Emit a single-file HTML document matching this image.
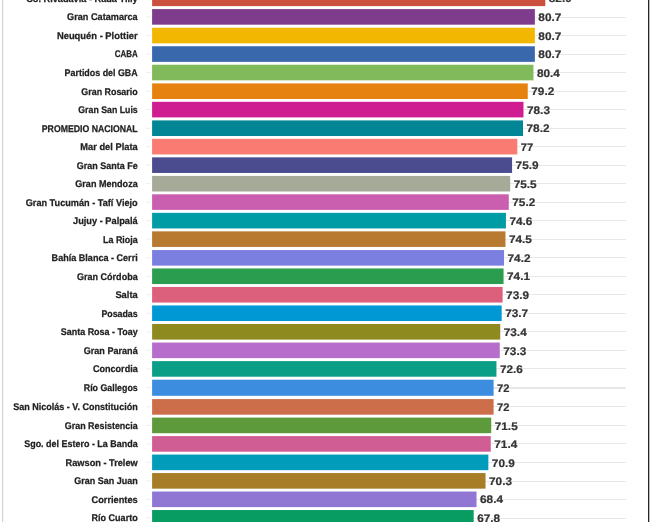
<!DOCTYPE html>
<html><head><meta charset="utf-8"><title>chart</title>
<style>
html,body{margin:0;padding:0;background:#fff;}
body{width:666px;height:522px;overflow:hidden;font-family:"Liberation Sans",sans-serif;}
svg{display:block;will-change:transform;}
text{font-family:"Liberation Sans",sans-serif;font-weight:bold;text-rendering:geometricPrecision;}
.l{font-size:9.7px;fill:#222;stroke:#222;stroke-width:0.25px;}
.v{font-size:11px;fill:#333;stroke:#333;stroke-width:0.2px;}
</style></head><body>
<svg width="666" height="522" viewBox="0 0 666 522">
<rect width="666" height="522" fill="#fff"/>
<rect x="2" y="0" width="1.15" height="522" fill="#d2d2d2"/>
<rect x="648" y="0" width="1.3" height="522" fill="#262626"/>
<rect x="152" y="-2" width="474" height="1" fill="#e8e8e8"/>
<rect x="146" y="-2.17" width="5" height="1" fill="#eeeeee"/>
<rect x="152" y="17" width="474" height="1" fill="#e8e8e8"/>
<rect x="146" y="16.38" width="5" height="1" fill="#eeeeee"/>
<rect x="152" y="35" width="474" height="1" fill="#e8e8e8"/>
<rect x="146" y="35.05" width="5" height="1" fill="#eeeeee"/>
<rect x="152" y="54" width="474" height="1" fill="#e8e8e8"/>
<rect x="146" y="53.56" width="5" height="1" fill="#eeeeee"/>
<rect x="152" y="72" width="474" height="1" fill="#e8e8e8"/>
<rect x="146" y="72.05" width="5" height="1" fill="#eeeeee"/>
<rect x="152" y="91" width="474" height="1" fill="#e8e8e8"/>
<rect x="146" y="90.71" width="5" height="1" fill="#eeeeee"/>
<rect x="152" y="109" width="474" height="1" fill="#e8e8e8"/>
<rect x="146" y="109.10" width="5" height="1" fill="#eeeeee"/>
<rect x="152" y="128" width="474" height="1" fill="#e8e8e8"/>
<rect x="146" y="127.72" width="5" height="1" fill="#eeeeee"/>
<rect x="152" y="146" width="474" height="1" fill="#e8e8e8"/>
<rect x="146" y="146.14" width="5" height="1" fill="#eeeeee"/>
<rect x="152" y="165" width="474" height="1" fill="#e8e8e8"/>
<rect x="146" y="164.64" width="5" height="1" fill="#eeeeee"/>
<rect x="152" y="183" width="474" height="1" fill="#e8e8e8"/>
<rect x="146" y="183.20" width="5" height="1" fill="#eeeeee"/>
<rect x="152" y="202" width="474" height="1" fill="#e8e8e8"/>
<rect x="146" y="201.60" width="5" height="1" fill="#eeeeee"/>
<rect x="152" y="220" width="474" height="1" fill="#e8e8e8"/>
<rect x="146" y="220.15" width="5" height="1" fill="#eeeeee"/>
<rect x="152" y="239" width="474" height="1" fill="#e8e8e8"/>
<rect x="146" y="238.65" width="5" height="1" fill="#eeeeee"/>
<rect x="152" y="257" width="474" height="1" fill="#e8e8e8"/>
<rect x="146" y="257.35" width="5" height="1" fill="#eeeeee"/>
<rect x="152" y="276" width="474" height="1" fill="#e8e8e8"/>
<rect x="146" y="275.75" width="5" height="1" fill="#eeeeee"/>
<rect x="152" y="294" width="474" height="1" fill="#e8e8e8"/>
<rect x="146" y="294.25" width="5" height="1" fill="#eeeeee"/>
<rect x="152" y="313" width="474" height="1" fill="#e8e8e8"/>
<rect x="146" y="312.75" width="5" height="1" fill="#eeeeee"/>
<rect x="152" y="331" width="474" height="1" fill="#e8e8e8"/>
<rect x="146" y="331.31" width="5" height="1" fill="#eeeeee"/>
<rect x="152" y="350" width="474" height="1" fill="#e8e8e8"/>
<rect x="146" y="349.85" width="5" height="1" fill="#eeeeee"/>
<rect x="152" y="368" width="474" height="1" fill="#e8e8e8"/>
<rect x="146" y="368.42" width="5" height="1" fill="#eeeeee"/>
<rect x="152" y="387" width="474" height="2" fill="#e8e8e8"/>
<rect x="146" y="387.25" width="5" height="1" fill="#eeeeee"/>
<rect x="152" y="406" width="474" height="1" fill="#e8e8e8"/>
<rect x="146" y="406.39" width="5" height="1" fill="#eeeeee"/>
<rect x="152" y="425" width="474" height="1" fill="#e8e8e8"/>
<rect x="146" y="424.90" width="5" height="1" fill="#eeeeee"/>
<rect x="152" y="443" width="474" height="1" fill="#e8e8e8"/>
<rect x="146" y="443.40" width="5" height="1" fill="#eeeeee"/>
<rect x="152" y="462" width="474" height="1" fill="#e8e8e8"/>
<rect x="146" y="461.86" width="5" height="1" fill="#eeeeee"/>
<rect x="152" y="481" width="474" height="1" fill="#e8e8e8"/>
<rect x="146" y="480.36" width="5" height="1" fill="#eeeeee"/>
<rect x="152" y="499" width="474" height="1" fill="#e8e8e8"/>
<rect x="146" y="498.82" width="5" height="1" fill="#eeeeee"/>
<rect x="152" y="518" width="474" height="1" fill="#e8e8e8"/>
<rect x="146" y="517.35" width="5" height="1" fill="#eeeeee"/>
<rect x="152.1" y="-9.47" width="393.19" height="15.6" fill="#cc503e"/>
<text class="l" x="137.7" y="1.73" text-anchor="end" textLength="111.5" lengthAdjust="spacingAndGlyphs">Co. Rivadavia - Rada Tilly</text>
<text class="v" x="548.79" y="2.48" textLength="23.0" lengthAdjust="spacingAndGlyphs">82.9</text>
<rect x="152.1" y="9.08" width="382.76" height="15.6" fill="#7f3c8d"/>
<text class="l" x="137.7" y="20.28" text-anchor="end" textLength="70.6" lengthAdjust="spacingAndGlyphs">Gran Catamarca</text>
<text class="v" x="538.36" y="21.03" textLength="23.0" lengthAdjust="spacingAndGlyphs">80.7</text>
<rect x="152.1" y="27.75" width="382.76" height="15.6" fill="#f2b701"/>
<text class="l" x="137.7" y="38.95" text-anchor="end" textLength="80.8" lengthAdjust="spacingAndGlyphs">Neuquén - Plottier</text>
<text class="v" x="538.36" y="39.70" textLength="23.0" lengthAdjust="spacingAndGlyphs">80.7</text>
<rect x="152.1" y="46.26" width="382.76" height="15.6" fill="#3969ac"/>
<text class="l" x="137.7" y="57.46" text-anchor="end" textLength="23.0" lengthAdjust="spacingAndGlyphs">CABA</text>
<text class="v" x="538.36" y="58.21" textLength="23.0" lengthAdjust="spacingAndGlyphs">80.7</text>
<rect x="152.1" y="64.75" width="381.34" height="15.6" fill="#80ba5a"/>
<text class="l" x="137.7" y="75.95" text-anchor="end" textLength="73.1" lengthAdjust="spacingAndGlyphs">Partidos del GBA</text>
<text class="v" x="536.94" y="76.70" textLength="23.0" lengthAdjust="spacingAndGlyphs">80.4</text>
<rect x="152.1" y="83.41" width="375.65" height="15.6" fill="#e68310"/>
<text class="l" x="137.7" y="94.61" text-anchor="end" textLength="56.4" lengthAdjust="spacingAndGlyphs">Gran Rosario</text>
<text class="v" x="531.25" y="95.36" textLength="23.0" lengthAdjust="spacingAndGlyphs">79.2</text>
<rect x="152.1" y="101.80" width="371.38" height="15.6" fill="#cf1c90"/>
<text class="l" x="137.7" y="113.00" text-anchor="end" textLength="59.4" lengthAdjust="spacingAndGlyphs">Gran San Luis</text>
<text class="v" x="526.98" y="113.75" textLength="23.0" lengthAdjust="spacingAndGlyphs">78.3</text>
<rect x="152.1" y="120.42" width="370.90" height="15.6" fill="#008695"/>
<text class="l" x="137.7" y="131.62" text-anchor="end" textLength="95.9" lengthAdjust="spacingAndGlyphs">PROMEDIO NACIONAL</text>
<text class="v" x="526.50" y="132.37" textLength="23.0" lengthAdjust="spacingAndGlyphs">78.2</text>
<rect x="152.1" y="138.84" width="365.21" height="15.6" fill="#f97b72"/>
<text class="l" x="137.7" y="150.04" text-anchor="end" textLength="57.4" lengthAdjust="spacingAndGlyphs">Mar del Plata</text>
<text class="v" x="520.81" y="150.79" textLength="12.4" lengthAdjust="spacingAndGlyphs">77</text>
<rect x="152.1" y="157.34" width="359.99" height="15.6" fill="#4b4b8f"/>
<text class="l" x="137.7" y="168.54" text-anchor="end" textLength="60.9" lengthAdjust="spacingAndGlyphs">Gran Santa Fe</text>
<text class="v" x="515.59" y="169.29" textLength="23.0" lengthAdjust="spacingAndGlyphs">75.9</text>
<rect x="152.1" y="175.90" width="358.10" height="15.6" fill="#a5aa99"/>
<text class="l" x="137.7" y="187.10" text-anchor="end" textLength="62.4" lengthAdjust="spacingAndGlyphs">Gran Mendoza</text>
<text class="v" x="513.70" y="187.85" textLength="23.0" lengthAdjust="spacingAndGlyphs">75.5</text>
<rect x="152.1" y="194.30" width="356.67" height="15.6" fill="#c95fae"/>
<text class="l" x="137.7" y="205.50" text-anchor="end" textLength="112.0" lengthAdjust="spacingAndGlyphs">Gran Tucumán - Tafí Viejo</text>
<text class="v" x="512.27" y="206.25" textLength="23.0" lengthAdjust="spacingAndGlyphs">75.2</text>
<rect x="152.1" y="212.85" width="353.83" height="15.6" fill="#009ca6"/>
<text class="l" x="137.7" y="224.05" text-anchor="end" textLength="64.7" lengthAdjust="spacingAndGlyphs">Jujuy - Palpalá</text>
<text class="v" x="509.43" y="224.80" textLength="23.0" lengthAdjust="spacingAndGlyphs">74.6</text>
<rect x="152.1" y="231.35" width="353.35" height="15.6" fill="#b87a30"/>
<text class="l" x="137.7" y="242.55" text-anchor="end" textLength="34.7" lengthAdjust="spacingAndGlyphs">La Rioja</text>
<text class="v" x="508.95" y="243.30" textLength="23.0" lengthAdjust="spacingAndGlyphs">74.5</text>
<rect x="152.1" y="250.05" width="351.93" height="15.6" fill="#7b7fe0"/>
<text class="l" x="137.7" y="261.25" text-anchor="end" textLength="86.1" lengthAdjust="spacingAndGlyphs">Bahía Blanca - Cerri</text>
<text class="v" x="507.53" y="262.00" textLength="23.0" lengthAdjust="spacingAndGlyphs">74.2</text>
<rect x="152.1" y="268.45" width="351.46" height="15.6" fill="#2a9d4e"/>
<text class="l" x="137.7" y="279.65" text-anchor="end" textLength="60.7" lengthAdjust="spacingAndGlyphs">Gran Córdoba</text>
<text class="v" x="507.06" y="280.40" textLength="23.0" lengthAdjust="spacingAndGlyphs">74.1</text>
<rect x="152.1" y="286.95" width="350.51" height="15.6" fill="#dc5f7c"/>
<text class="l" x="137.7" y="298.15" text-anchor="end" textLength="22.3" lengthAdjust="spacingAndGlyphs">Salta</text>
<text class="v" x="506.11" y="298.90" textLength="23.0" lengthAdjust="spacingAndGlyphs">73.9</text>
<rect x="152.1" y="305.45" width="349.56" height="15.6" fill="#0098d4"/>
<text class="l" x="137.7" y="316.65" text-anchor="end" textLength="36.3" lengthAdjust="spacingAndGlyphs">Posadas</text>
<text class="v" x="505.16" y="317.40" textLength="23.0" lengthAdjust="spacingAndGlyphs">73.7</text>
<rect x="152.1" y="324.01" width="348.14" height="15.6" fill="#8f8a20"/>
<text class="l" x="137.7" y="335.21" text-anchor="end" textLength="76.9" lengthAdjust="spacingAndGlyphs">Santa Rosa - Toay</text>
<text class="v" x="503.74" y="335.96" textLength="23.0" lengthAdjust="spacingAndGlyphs">73.4</text>
<rect x="152.1" y="342.55" width="347.66" height="15.6" fill="#b76dcb"/>
<text class="l" x="137.7" y="353.75" text-anchor="end" textLength="54.0" lengthAdjust="spacingAndGlyphs">Gran Paraná</text>
<text class="v" x="503.26" y="354.50" textLength="23.0" lengthAdjust="spacingAndGlyphs">73.3</text>
<rect x="152.1" y="361.12" width="344.34" height="15.6" fill="#0a9e86"/>
<text class="l" x="137.7" y="372.32" text-anchor="end" textLength="44.7" lengthAdjust="spacingAndGlyphs">Concordia</text>
<text class="v" x="499.94" y="373.07" textLength="23.0" lengthAdjust="spacingAndGlyphs">72.6</text>
<rect x="152.1" y="379.70" width="341.50" height="16.1" fill="#3c8de0"/>
<text class="l" x="137.7" y="391.15" text-anchor="end" textLength="53.9" lengthAdjust="spacingAndGlyphs">Río Gallegos</text>
<text class="v" x="497.10" y="391.90" textLength="12.4" lengthAdjust="spacingAndGlyphs">72</text>
<rect x="152.1" y="399.09" width="341.50" height="15.6" fill="#cc6e4a"/>
<text class="l" x="137.7" y="410.29" text-anchor="end" textLength="124.5" lengthAdjust="spacingAndGlyphs">San Nicolás - V. Constitución</text>
<text class="v" x="497.10" y="411.04" textLength="12.4" lengthAdjust="spacingAndGlyphs">72</text>
<rect x="152.1" y="417.60" width="339.12" height="15.6" fill="#5d9a3b"/>
<text class="l" x="137.7" y="428.80" text-anchor="end" textLength="72.9" lengthAdjust="spacingAndGlyphs">Gran Resistencia</text>
<text class="v" x="494.72" y="429.55" textLength="23.0" lengthAdjust="spacingAndGlyphs">71.5</text>
<rect x="152.1" y="436.10" width="338.65" height="15.6" fill="#d05d94"/>
<text class="l" x="137.7" y="447.30" text-anchor="end" textLength="113.5" lengthAdjust="spacingAndGlyphs">Sgo. del Estero - La Banda</text>
<text class="v" x="494.25" y="448.05" textLength="23.0" lengthAdjust="spacingAndGlyphs">71.4</text>
<rect x="152.1" y="454.56" width="336.28" height="15.6" fill="#009cba"/>
<text class="l" x="137.7" y="465.76" text-anchor="end" textLength="72.1" lengthAdjust="spacingAndGlyphs">Rawson - Trelew</text>
<text class="v" x="491.88" y="466.51" textLength="23.0" lengthAdjust="spacingAndGlyphs">70.9</text>
<rect x="152.1" y="473.06" width="333.43" height="15.6" fill="#a87d27"/>
<text class="l" x="137.7" y="484.26" text-anchor="end" textLength="63.4" lengthAdjust="spacingAndGlyphs">Gran San Juan</text>
<text class="v" x="489.03" y="485.01" textLength="23.0" lengthAdjust="spacingAndGlyphs">70.3</text>
<rect x="152.1" y="491.52" width="324.42" height="15.6" fill="#9077d4"/>
<text class="l" x="137.7" y="502.72" text-anchor="end" textLength="46.2" lengthAdjust="spacingAndGlyphs">Corrientes</text>
<text class="v" x="480.02" y="503.47" textLength="23.0" lengthAdjust="spacingAndGlyphs">68.4</text>
<rect x="152.1" y="510.05" width="321.58" height="15.6" fill="#089b62"/>
<text class="l" x="137.7" y="521.25" text-anchor="end" textLength="46.2" lengthAdjust="spacingAndGlyphs">Río Cuarto</text>
<text class="v" x="477.18" y="522.00" textLength="23.0" lengthAdjust="spacingAndGlyphs">67.8</text>
</svg></body></html>
